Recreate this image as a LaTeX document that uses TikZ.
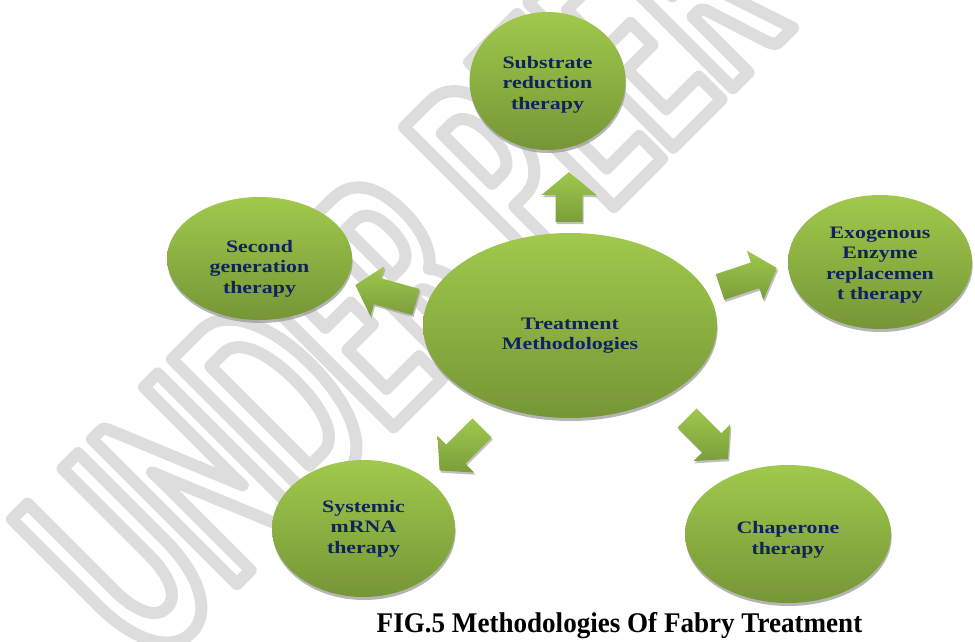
\documentclass[tikz,border=0pt]{standalone}
\usepackage{fontspec}
\setmainfont{Liberation Serif}
\newfontfamily\lblfont{Liberation Serif}[FakeStretch=1.25]
\newfontfamily\capfont{Liberation Serif}[FakeStretch=0.95]
\newfontfamily\wmfont{Carlito}[FakeStretch=0.545]
\usetikzlibrary{calc,shapes.geometric,shadows}
\definecolor{lbltext}{RGB}{16,36,92}
\definecolor{gtop}{RGB}{160,201,76}
\definecolor{gbot}{RGB}{118,150,54}
\definecolor{atop}{RGB}{158,200,78}
\definecolor{abot}{RGB}{122,158,58}
\definecolor{wmgray}{RGB}{221,221,221}
\definecolor{shadowgray}{RGB}{150,150,150}
\newcommand\outlinetext[1]{\special{pdf:literal direct 1 Tr 12 w 1 j 1 J}#1}
\tikzset{
  bubble/.style={ellipse, inner sep=0pt, top color=gtop, bottom color=gbot,
    drop shadow={shadow xshift=0.6pt, shadow yshift=-3pt, fill=shadowgray, opacity=0.7}},
  lbl/.style={align=center, text=lbltext, font=\lblfont\bfseries\fontsize{17.5}{20.5}\selectfont, inner sep=0pt},
  arrowbody/.style={top color=atop, bottom color=abot, draw=none},
  arrowshade/.style={fill=shadowgray, opacity=0.6},
  caption/.style={font=\capfont\bfseries\fontsize{28.5}{30}\selectfont, text=black, inner sep=0pt},
  wm/.style={font=\wmfont\bfseries\fontsize{316}{316}\selectfont, inner sep=0pt, anchor=base west, rotate=45}
}
% #1 tail point, #2 angle, #3 length, #4 head half width, #5 shaft half width
\newcommand\blockarr[5]{%
  \begin{scope}[shift={#1}]
    \begin{scope}[shift={(1.2,-2.2)}, rotate=#2]
      \fill[arrowshade] (0,-#5) -- ({#3-23},-#5) -- ({#3-23},-#4) -- (#3,0) -- ({#3-23},#4) -- ({#3-23},#5) -- (0,#5) -- cycle;
    \end{scope}
    \begin{scope}[rotate=#2]
      \path[arrowbody] (0,-#5) -- ({#3-23},-#5) -- ({#3-23},-#4) -- (#3,0) -- ({#3-23},#4) -- ({#3-23},#5) -- (0,#5) -- cycle;
    \end{scope}
  \end{scope}}
\begin{document}
\begin{tikzpicture}[x=1pt,y=1pt]
\useasboundingbox (0,0) rectangle (975,641);
\fill[white] (0,0) rectangle (975,641);
\begin{scope}
\clip (0,0) rectangle (975,641);
% watermark (outlined text)
\node[wm, text=wmgray] (wmark) at (150,-30) {\outlinetext{UNDER PEER REVIEW}};
\end{scope}

% ellipses
\node[bubble, minimum width=294pt, minimum height=185pt] (center) at (570,315.5) {};
\node[bubble, minimum width=156pt, minimum height=138pt] (substrate) at (547.5,560) {};
\node[bubble, minimum width=185pt, minimum height=123pt] (second) at (259.5,382.5) {};
\node[bubble, minimum width=184pt, minimum height=134pt] (exo) at (880,379) {};
\node[bubble, minimum width=183pt, minimum height=137pt] (systemic) at (363.5,112.5) {};
\node[bubble, minimum width=206pt, minimum height=138pt] (chaperone) at (788,107) {};

% labels
\node[lbl] (tcenter) at ($(center)+(0,-10)$) {Treatment\\Methodologies};
\node[lbl] (tsub) at ($(substrate)+(0,-3.5)$) {Substrate\\reduction\\therapy};
\node[lbl] (tsec) at ($(second)+(0,-10)$) {Second\\generation\\therapy};
\node[lbl] (texo) at ($(exo)+(0,-3)$) {Exogenous\\Enzyme\\replacemen\\t therapy};
\node[lbl] (tsys) at (systemic) {Systemic\\mRNA\\therapy};
\node[lbl] (tcha) at ($(chaperone)+(0,-6)$) {Chaperone\\therapy};

% block arrows
\blockarr{(569,419)}{90}{50}{27.5}{13.5}
\blockarr{(416,339)}{164.4}{63}{26}{13.5}
\blockarr{(720,354)}{18.4}{60}{26}{13.5}
\blockarr{(482,213)}{225}{60}{26}{13.5}
\blockarr{(687,223)}{-45}{58}{26}{13.5}

% caption
\node[caption, anchor=base] (cap) at (619.5,9) {FIG.5 Methodologies Of Fabry Treatment};
\end{tikzpicture}
\end{document}
